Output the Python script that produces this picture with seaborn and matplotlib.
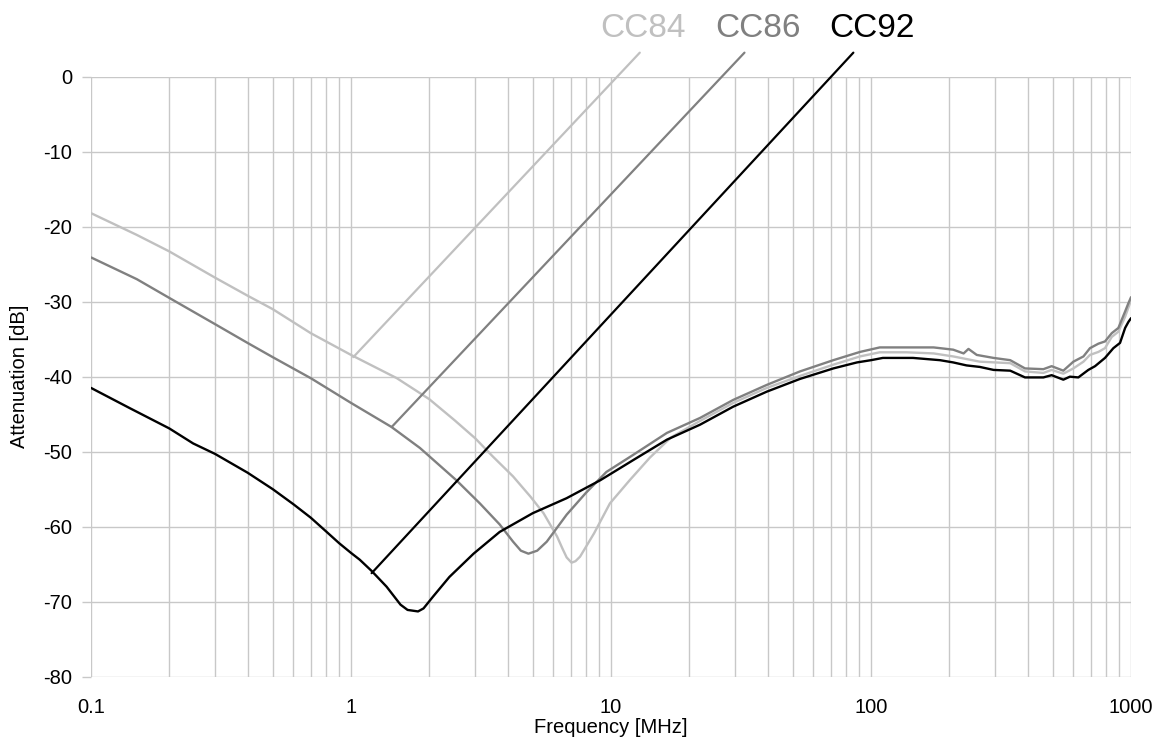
import numpy as np
import pandas as pd
import seaborn as sns
import matplotlib.pyplot as plt
from matplotlib.ticker import FixedLocator, FuncFormatter, NullFormatter

# attenuation curves (frequency in MHz, attenuation in dB)
cc84_freq = [0.1, 0.15, 0.2, 0.3, 0.4, 0.5, 0.7, 1.0, 1.5, 2.0, 2.5, 3.0, 3.5, 4.2, 4.9,
             5.5, 6.2, 6.5, 6.75, 7.05, 7.3, 7.6, 8.6, 9.9, 11.8, 14.1, 17, 22.0, 29.5,
             39.7, 53.3, 71.6, 90.7, 108, 137, 174, 207, 262, 343, 391, 460, 495, 549,
             600, 656, 695, 749, 794, 843, 894, 949, 1000]
cc84_db = [-18.2, -21.1, -23.3, -26.8, -29.2, -31.0, -34.2, -37.1, -40.2, -43.0, -45.8,
           -48.2, -50.6, -53.3, -56.0, -58.2, -61.3, -62.9, -64.1, -64.8, -64.6, -64.0,
           -60.9, -56.9, -53.8, -50.8, -48.1, -45.9, -43.5, -41.5, -39.9, -38.4, -37.3,
           -36.75, -36.75, -36.9, -37.3, -38.0, -38.2, -39.3, -39.5, -39.1, -39.6, -38.9,
           -38.0, -37.1, -36.7, -36.2, -34.7, -34.0, -32.0, -29.8]

cc86_freq = [0.1, 0.15, 0.2, 0.3, 0.4, 0.5, 0.7, 1.0, 1.43, 1.84, 2.54, 3.13, 3.73, 4.2,
             4.5, 4.81, 5.2, 5.66, 6.75, 8.0, 9.6, 12.2, 16.4, 22.0, 29.5, 39.7, 53.3,
             71.6, 90.7, 108, 137, 174, 207, 227, 237, 255, 296, 343, 391, 460, 495, 549,
             600, 656, 695, 749, 794, 843, 894, 949, 977, 1000]
cc86_db = [-24.1, -27.0, -29.5, -33.0, -35.5, -37.4, -40.2, -43.5, -46.7, -49.5, -53.8,
           -56.9, -59.7, -62.0, -63.2, -63.6, -63.2, -62.0, -58.4, -55.5, -52.7, -50.4,
           -47.5, -45.5, -43.1, -41.1, -39.3, -37.8, -36.7, -36.1, -36.1, -36.1, -36.4,
           -36.9, -36.3, -37.1, -37.5, -37.8, -38.9, -39.0, -38.6, -39.2, -38.0, -37.3,
           -36.2, -35.6, -35.3, -34.2, -33.5, -31.3, -30.2, -29.4]

cc92_freq = [0.1, 0.141, 0.2, 0.247, 0.3, 0.4, 0.5, 0.6, 0.7, 0.8, 0.9, 1.0, 1.08, 1.2,
             1.37, 1.55, 1.65, 1.81, 1.9, 2.07, 2.39, 2.96, 3.73, 5.0, 6.75, 9.1, 12.2,
             16.4, 22.0, 29.5, 39.7, 53.3, 71.6, 88.3, 100, 111, 145, 184, 207, 233, 262,
             296, 343, 391, 460, 495, 549, 582, 627, 685, 727, 794, 855, 907, 949, 977,
             1000]
cc92_db = [-41.5, -44.2, -46.9, -48.9, -50.3, -52.8, -55.0, -57.0, -58.8, -60.6, -62.2,
           -63.5, -64.4, -65.9, -68.0, -70.4, -71.1, -71.3, -70.9, -69.3, -66.7, -63.6,
           -60.7, -58.2, -56.2, -53.8, -51.1, -48.4, -46.4, -44.0, -42.0, -40.3, -38.9,
           -38.1, -37.8, -37.5, -37.5, -37.8, -38.1, -38.5, -38.7, -39.1, -39.2, -40.1,
           -40.1, -39.8, -40.4, -40.0, -40.1, -39.1, -38.6, -37.5, -36.2, -35.5, -33.5,
           -32.7, -32.2]

series = ["CC84", "CC86", "CC92"]
colors = ["#c0c0c0", "#808080", "#000000"]

# leader lines: from the curve up to the label above the plot
leader_start_f = [1.02, 1.434, 1.20]
leader_start_db = [-37.4, -46.7, -66.2]
leader_end_f = [12.9, 32.6, 85.5]
leader_end_db = [3.2, 3.2, 3.2]
label_f = [13.3, 36.6, 100.6]
label_db = [6.4, 6.4, 6.4]

xticks = [0.1, 1, 10, 100, 1000]
yticks = list(range(-80, 1, 10))

df = pd.concat([
    pd.DataFrame({"freq": cc84_freq, "att": cc84_db, "cable": "CC84"}),
    pd.DataFrame({"freq": cc86_freq, "att": cc86_db, "cable": "CC86"}),
    pd.DataFrame({"freq": cc92_freq, "att": cc92_db, "cable": "CC92"}),
])

sns.set_style("white")
plt.rcParams["font.family"] = ["Liberation Sans", "DejaVu Sans"]
plt.rcParams["axes.unicode_minus"] = False

fig = plt.figure(figsize=(11.61, 7.45), dpi=100)
ax = fig.add_axes([0.0784, 0.0917, 0.8958, 0.8054])
ax.set_xscale("log")

sns.lineplot(data=df, x="freq", y="att", hue="cable", palette=dict(zip(series, colors)),
             estimator=None, sort=False, lw=1.7, legend=False, ax=ax)

for i in range(3):
    ax.plot([leader_start_f[i], leader_end_f[i]], [leader_start_db[i], leader_end_db[i]],
            color=colors[i], lw=1.6, clip_on=False)
    ax.text(label_f[i], label_db[i], series[i], color=colors[i], fontsize=24,
            ha="center", va="center", clip_on=False)

ax.set_xlim(0.1, 1000)
ax.set_ylim(-80, 0)
ax.xaxis.set_major_locator(FixedLocator(xticks))
ax.xaxis.set_major_formatter(FuncFormatter(lambda v, p: "%g" % v))
minors = [m * d for d in [0.1, 1, 10, 100] for m in range(2, 10)]
ax.xaxis.set_minor_locator(FixedLocator(minors))
ax.xaxis.set_minor_formatter(NullFormatter())
ax.set_yticks(yticks)

gc = "#c8c8c8"
ax.grid(True, which="both", axis="x", color=gc, lw=1.0)
ax.grid(True, which="major", axis="y", color=gc, lw=1.0)
ax.set_axisbelow(True)
for s in ax.spines.values():
    s.set_visible(False)

ax.tick_params(axis="y", which="major", direction="out", length=6.5, width=1.0,
               color=gc, labelsize=14.5, labelcolor="black", pad=7, left=True)
ax.tick_params(axis="x", which="both", length=0, labelsize=14.5, labelcolor="black",
               pad=15.5)

ax.set_xlabel("Frequency [MHz]", fontsize=14.5, labelpad=0.5, color="black")
ax.set_ylabel("Attenuation [dB]", fontsize=14.5, labelpad=10, color="black")

fig.savefig("out.png", dpi=100)
